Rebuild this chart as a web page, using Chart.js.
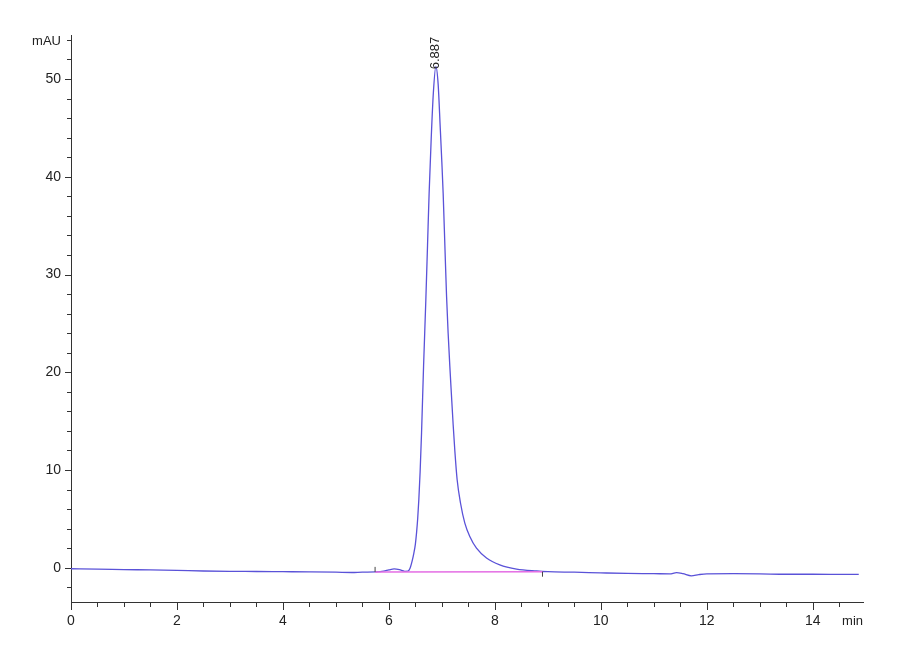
<!DOCTYPE html>
<html lang="en">
<head>
  <meta charset="UTF-8" />
  <title>Chromatogram</title>
  <script src="https://cdn.jsdelivr.net/npm/chart.js"></script>
  <style>
    body { margin: 0; background: #fff; }
    .wrap { width: 900px; height: 660px; position: relative; }
  </style>
</head>
<body>
  <div class="wrap"><canvas id="chrom"></canvas></div>

  <script>
    // retention time (min) and signal (mAU)
    const times = [0, 0.5, 1, 1.5, 2, 2.5, 3, 3.5, 4, 4.5, 5, 5.3, 5.5, 5.75, 5.9, 6.0, 6.1, 6.2, 6.3, 6.36,
      6.4, 6.44, 6.472, 6.5, 6.523, 6.545, 6.566, 6.59, 6.617, 6.655, 6.698, 6.73, 6.76, 6.8, 6.84, 6.887,
      6.93, 6.97, 7.0, 7.025, 7.06, 7.089, 7.119, 7.151, 7.18, 7.214, 7.245, 7.289, 7.353, 7.434, 7.528,
      7.654, 7.843, 8.094, 8.41, 8.79, 9.0, 9.5, 10, 10.5, 11, 11.3, 11.43, 11.55, 11.71, 11.85, 12, 12.5,
      13, 13.5, 14, 14.5, 14.87];
    const signal = [-0.1, -0.13, -0.18, -0.22, -0.27, -0.33, -0.37, -0.38, -0.4, -0.42, -0.45, -0.48, -0.44, -0.42, -0.35, -0.22, -0.12, -0.2, -0.36, -0.35,
      -0.05, 0.7, 1.5, 2.4, 3.6, 5.1, 7.0, 9.8, 13.8, 20.6, 27.4, 33.0, 38.3, 44.0, 48.6, 51.3,
      49.5, 45.0, 41.5, 38.3, 32.5, 27.8, 24.0, 20.6, 17.8, 14.6, 12.0, 9.0, 6.6, 4.57, 3.2,
      2.0, 1.0, 0.3, -0.13, -0.33, -0.4, -0.45, -0.52, -0.58, -0.6, -0.62, -0.5, -0.6, -0.82, -0.7, -0.62, -0.6,
      -0.62, -0.66, -0.66, -0.67, -0.68];

    // integration baseline under the peak
    const baseTimes = [5.74, 8.9];
    const baseValues = [-0.42, -0.4];

    const peakTime = 6.887;
    const peakHeight = 51.3;
    const peakLabel = "6.887";

    const xTickLabels = [0, 2, 4, 6, 8, 10, 12, 14];
    const yTickLabels = [0, 10, 20, 30, 40, 50];
    const xMinorStep = 0.5, yMinorStep = 2;
    const xRange = [0, 14.95], yRange = [-3.5, 54.5];

    const FONT = "'Liberation Sans Narrow', 'Liberation Sans', Arial, sans-serif";
    const AXIS = "#333";

    function minorTicks(from, to, step) {
      const out = [];
      for (let v = Math.ceil(from / step) * step; v <= to + 1e-9; v += step) out.push({ value: Math.round(v * 100) / 100 });
      return out;
    }

    const decorations = {
      id: "decorations",
      afterDraw(chart) {
        const { ctx, chartArea, scales: { x, y } } = chart;
        ctx.save();
        ctx.strokeStyle = AXIS;
        ctx.lineWidth = 1;

        // ticks: longer where labelled
        x.ticks.forEach(t => {
          const px = Math.round(x.getPixelForValue(t.value)) + 0.5;
          const len = xTickLabels.includes(t.value) ? 8 : 5;
          ctx.beginPath();
          ctx.moveTo(px, chartArea.bottom);
          ctx.lineTo(px, chartArea.bottom + len);
          ctx.stroke();
        });
        y.ticks.forEach(t => {
          const py = Math.round(y.getPixelForValue(t.value)) + 0.5;
          const len = yTickLabels.includes(t.value) ? 6 : 4;
          ctx.beginPath();
          ctx.moveTo(chartArea.left, py);
          ctx.lineTo(chartArea.left - len, py);
          ctx.stroke();
        });

        // baseline start/end markers
        ctx.strokeStyle = "#444";
        let bx = x.getPixelForValue(baseTimes[0]), by = y.getPixelForValue(baseValues[0]);
        ctx.beginPath(); ctx.moveTo(bx, by); ctx.lineTo(bx, by - 5); ctx.stroke();
        bx = x.getPixelForValue(baseTimes[1]); by = y.getPixelForValue(baseValues[1]);
        ctx.beginPath(); ctx.moveTo(bx, by); ctx.lineTo(bx, by + 5); ctx.stroke();

        // axis units
        ctx.fillStyle = "#222";
        ctx.font = "13px " + FONT;
        ctx.textBaseline = "middle";
        ctx.textAlign = "right";
        ctx.fillText("mAU", chartArea.left - 10, chartArea.top + 6);
        ctx.fillText("min", chartArea.right, chartArea.bottom + 19);

        // peak retention time label, vertical
        const lx = x.getPixelForValue(peakTime), ly = y.getPixelForValue(peakHeight);
        ctx.translate(lx, ly + 3);
        ctx.rotate(-Math.PI / 2);
        ctx.textAlign = "left";
        ctx.font = "13px " + FONT;
        ctx.fillText(peakLabel, 0, 0);
        ctx.restore();
      }
    };

    new Chart(document.getElementById("chrom"), {
      type: "line",
      data: {
        datasets: [
          {
            label: "baseline",
            data: baseTimes.map((t, i) => ({ x: t, y: baseValues[i] })),
            borderColor: "#e46ee4",
            borderWidth: 1.5,
            pointRadius: 0,
            order: 0
          },
          {
            label: "signal",
            data: times.map((t, i) => ({ x: t, y: signal[i] })),
            borderColor: "#5a52d8",
            borderWidth: 1.3,
            pointRadius: 0,
            cubicInterpolationMode: "monotone",
            order: 1
          }
        ]
      },
      options: {
        responsive: true,
        maintainAspectRatio: false,
        animation: false,
        layout: { padding: { top: 35, right: 37, left: 0, bottom: 0 } },
        plugins: { legend: { display: false }, tooltip: { enabled: false } },
        scales: {
          x: {
            type: "linear",
            min: xRange[0],
            max: xRange[1],
            afterBuildTicks: s => { s.ticks = minorTicks(xRange[0], xRange[1], xMinorStep); },
            afterFit: s => { s.height = 58; },
            grid: { display: true, drawOnChartArea: false, tickLength: 8, tickColor: "transparent" },
            border: { display: true, color: AXIS },
            ticks: {
              autoSkip: false, maxRotation: 0, padding: 3,
              color: "#222", font: { family: FONT, size: 14 },
              callback: v => xTickLabels.includes(v) ? String(v) : ""
            }
          },
          y: {
            type: "linear",
            min: yRange[0],
            max: yRange[1],
            afterBuildTicks: s => { s.ticks = minorTicks(-2, 54, yMinorStep); },
            afterFit: s => { s.width = 71; },
            grid: { display: true, drawOnChartArea: false, tickLength: 6, tickColor: "transparent" },
            border: { display: true, color: AXIS },
            ticks: {
              autoSkip: false, padding: 4,
              color: "#222", font: { family: FONT, size: 14 },
              callback: v => yTickLabels.includes(v) ? String(v) : ""
            }
          }
        }
      },
      plugins: [decorations]
    });
  </script>
</body>
</html>
